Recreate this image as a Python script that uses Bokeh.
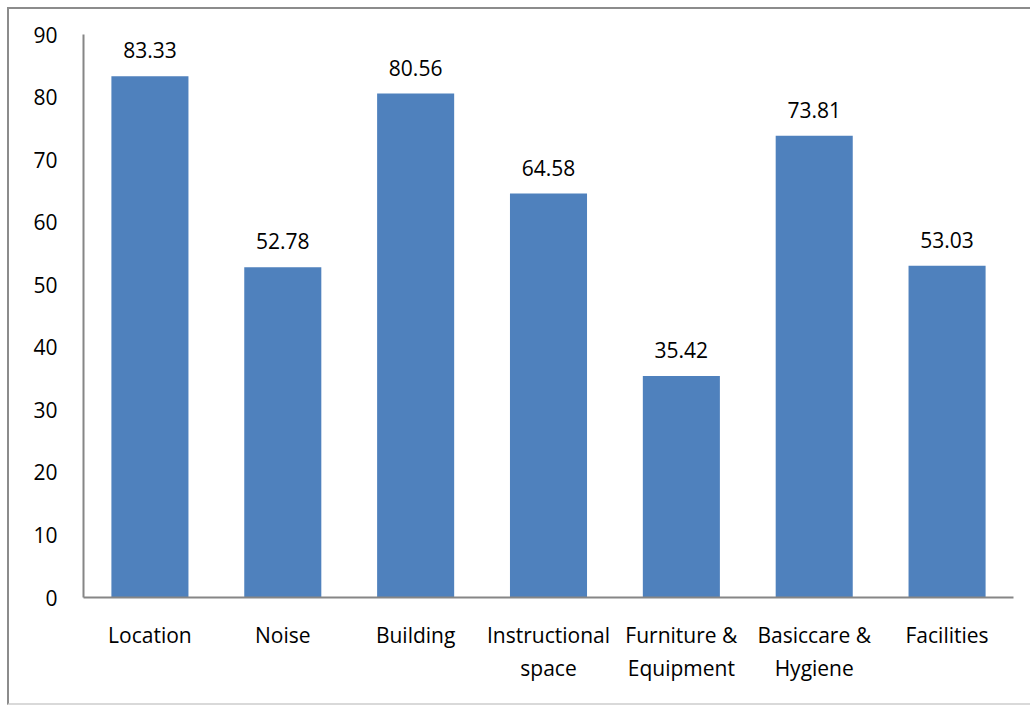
from bokeh.plotting import figure
from bokeh.models import ColumnDataSource, FixedTicker, LabelSet
from bokeh.core.properties import value
from bokeh.embed import file_html
from bokeh.resources import INLINE

categories = ["Location", "Noise", "Building", "Instructional\nspace",
              "Furniture &\nEquipment", "Basiccare &\nHygiene", "Facilities"]
values = [83.33, 52.78, 80.56, 64.58, 35.42, 73.81, 53.03]
labels = ["83.33", "52.78", "80.56", "64.58", "35.42", "73.81", "53.03"]
y_ticks = [0, 10, 20, 30, 40, 50, 60, 70, 80, 90]

FONT = "Open Sans"
FS = "21px"
src = ColumnDataSource(dict(cat=categories, val=values, lab=labels))

p = figure(x_range=categories, y_range=(0, 90), width=1023, height=698,
           output_backend="svg", toolbar_location=None,
           min_border_left=74, min_border_right=19, min_border_top=25, min_border_bottom=110)
p.x_range.range_padding = 0
p.vbar(x="cat", top="val", width=0.58, source=src, color="#4F81BD", line_color=None)
p.add_layout(LabelSet(x="cat", y="val", text="lab", source=src, text_align="center",
                      text_baseline="bottom", y_offset=18, text_font=value(FONT),
                      text_font_size=value(FS), text_color="#000000"))

p.grid.visible = False
p.outline_line_color = None
p.background_fill_color = "white"
p.border_fill_color = "white"
p.yaxis.ticker = FixedTicker(ticks=y_ticks)
for ax in (p.xaxis, p.yaxis):
    ax.axis_line_color = "#868686"
    ax.axis_line_width = 2
    ax.major_tick_line_color = None
    ax.minor_tick_line_color = None
    ax.major_label_text_font = FONT
    ax.major_label_text_font_size = FS
    ax.major_label_text_color = "#000000"
p.yaxis.major_label_standoff = 20
p.xaxis.major_label_standoff = 17

p.styles = {"border-left": "2px solid #8c8c8c", "border-top": "2px solid #8c8c8c",
            "border-bottom": "2px solid #d9d9d9", "margin-left": "7px", "margin-top": "7px"}

open("out.html", "w").write(file_html(p, INLINE))
